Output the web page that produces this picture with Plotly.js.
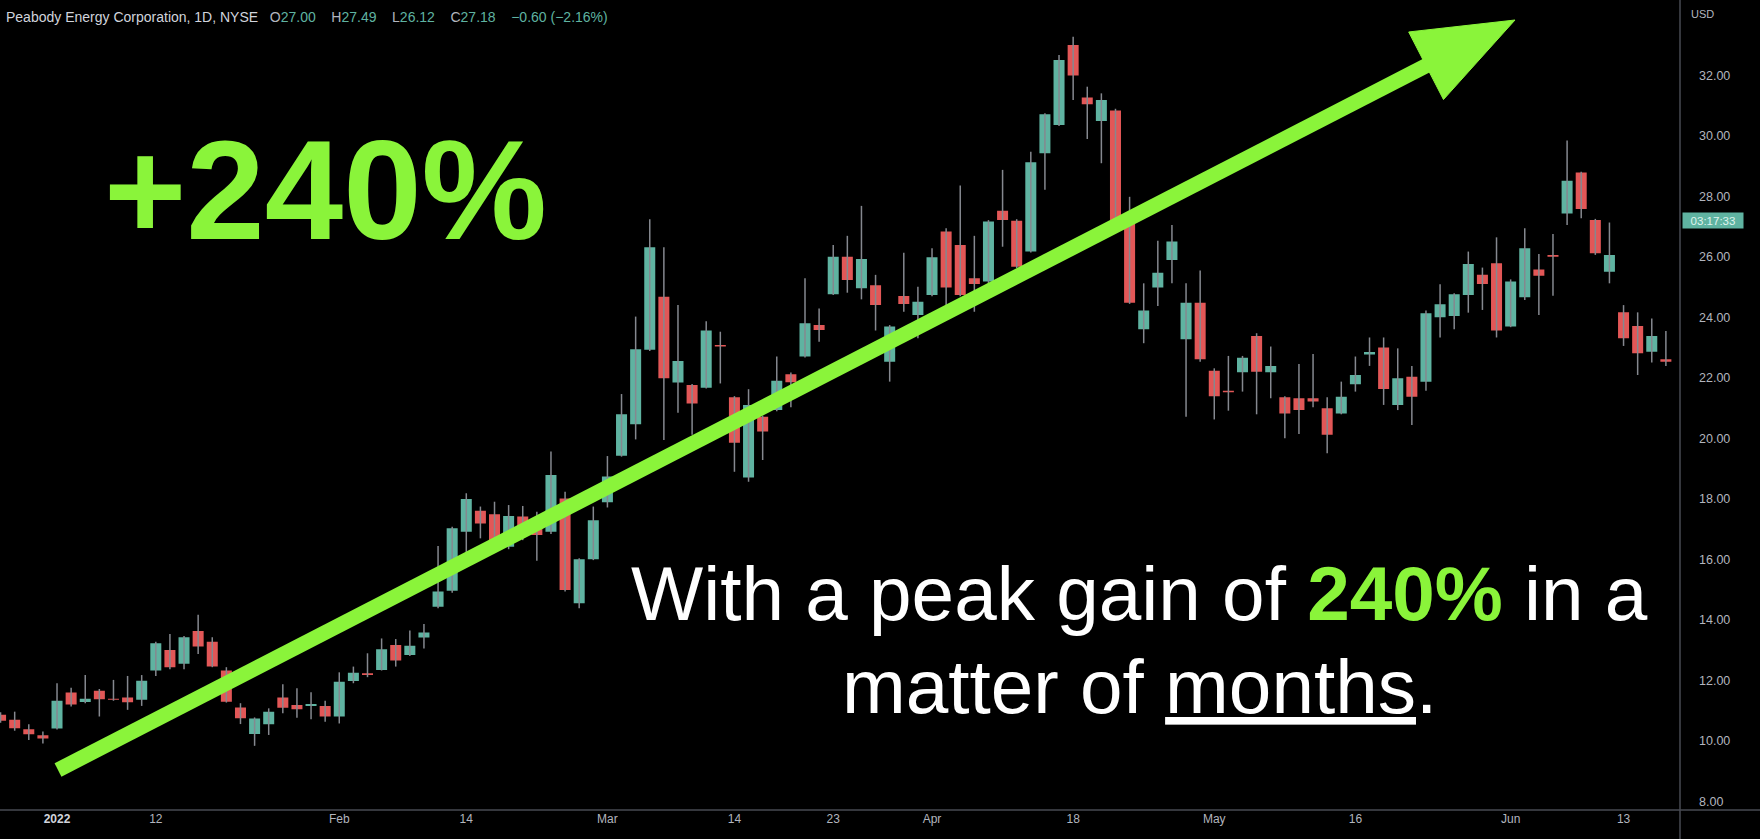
<!DOCTYPE html>
<html>
<head>
<meta charset="utf-8">
<script src="https://cdn.plot.ly/plotly-3.0.1.min.js"></script>
<style>
html,body{margin:0;padding:0;background:#000;}
#chart{width:1760px;height:839px;}
</style>
</head>
<body>
<div id="chart"></div>
<script>
// ---- data ----
const dates = [
 '2021-12-28','2021-12-29','2021-12-30','2021-12-31',
 '2022-01-03','2022-01-04','2022-01-05','2022-01-06','2022-01-07','2022-01-10','2022-01-11','2022-01-12','2022-01-13','2022-01-14',
 '2022-01-18','2022-01-19','2022-01-20','2022-01-21','2022-01-24','2022-01-25','2022-01-26','2022-01-27','2022-01-28','2022-01-31',
 '2022-02-01','2022-02-02','2022-02-03','2022-02-04','2022-02-07','2022-02-08','2022-02-09','2022-02-10','2022-02-11','2022-02-14',
 '2022-02-15','2022-02-16','2022-02-17','2022-02-18','2022-02-22','2022-02-23','2022-02-24','2022-02-25','2022-02-28',
 '2022-03-01','2022-03-02','2022-03-03','2022-03-04','2022-03-07','2022-03-08','2022-03-09','2022-03-10','2022-03-11','2022-03-14',
 '2022-03-15','2022-03-16','2022-03-17','2022-03-18','2022-03-21','2022-03-22','2022-03-23','2022-03-24','2022-03-25','2022-03-28',
 '2022-03-29','2022-03-30','2022-03-31',
 '2022-04-01','2022-04-04','2022-04-05','2022-04-06','2022-04-07','2022-04-08','2022-04-11','2022-04-12','2022-04-13','2022-04-14',
 '2022-04-18','2022-04-19','2022-04-20','2022-04-21','2022-04-22','2022-04-25','2022-04-26','2022-04-27','2022-04-28','2022-04-29',
 '2022-05-02','2022-05-03','2022-05-04','2022-05-05','2022-05-06','2022-05-09','2022-05-10','2022-05-11','2022-05-12','2022-05-13',
 '2022-05-16','2022-05-17','2022-05-18','2022-05-19','2022-05-20','2022-05-23','2022-05-24','2022-05-25','2022-05-26','2022-05-27',
 '2022-05-31',
 '2022-06-01','2022-06-02','2022-06-03','2022-06-06','2022-06-07','2022-06-08','2022-06-09','2022-06-10','2022-06-13','2022-06-14',
 '2022-06-15','2022-06-16'
];
const opens = [
 10.87,10.70,10.39,10.19,
 10.41,11.60,11.29,11.66,11.40,11.44,11.36,12.33,13.01,12.55,
 13.64,13.28,12.33,11.11,10.23,10.55,11.44,11.19,11.16,11.16,
 10.81,11.98,12.24,12.35,13.17,12.84,13.42,14.44,14.97,16.92,
 17.61,17.50,16.42,17.42,17.19,16.92,18.02,14.55,16.01,
 17.89,19.43,20.47,22.93,24.69,21.85,21.77,21.68,23.09,21.36,
 18.71,20.72,20.94,22.12,22.71,23.75,24.77,26.01,24.97,25.07,
 22.54,24.71,24.08,
 24.74,26.84,26.40,25.30,25.19,27.53,27.20,26.18,29.43,30.36,
 33.01,31.27,30.50,30.84,27.10,23.61,24.99,25.90,23.28,24.49,
 22.24,21.58,22.19,23.39,22.19,21.36,21.33,21.33,21.00,20.83,
 21.79,22.78,23.01,21.11,22.04,21.88,24.01,24.05,24.74,25.41,
 25.79,
 23.70,24.67,25.59,26.07,27.44,28.79,27.22,25.51,24.17,23.72,
 22.87,22.62
];
const highs = [
 10.95,10.97,10.55,10.31,
 11.91,11.76,12.18,11.72,12.02,12.15,12.18,13.28,13.54,13.47,
 14.17,13.43,12.44,11.25,10.78,11.08,11.88,11.74,11.61,11.33,
 12.27,12.46,12.90,13.39,13.37,13.65,13.87,16.45,17.08,18.19,
 17.75,17.91,17.80,17.77,17.58,19.57,18.24,16.04,17.75,
 19.42,21.47,24.03,27.25,26.32,24.41,21.80,23.88,23.53,21.40,
 21.63,20.75,22.71,22.18,25.30,24.30,26.40,26.70,27.69,25.41,
 23.75,26.14,25.02,
 26.29,26.95,28.36,26.70,27.22,28.88,27.25,29.48,30.75,32.68,
 33.28,31.63,31.41,30.90,27.99,25.13,26.54,27.06,25.13,25.55,
 22.32,22.73,22.73,23.48,23.04,21.40,22.46,22.79,21.36,21.88,
 22.71,23.34,23.34,22.98,22.40,24.23,25.10,24.80,26.18,25.65,
 26.65,
 25.26,26.95,26.10,26.76,29.85,28.82,27.26,27.14,24.41,24.17,
 23.97,23.55
];
const lows = [
 10.60,10.34,10.03,9.92,
 10.38,11.14,11.25,10.81,11.33,11.03,11.16,12.15,12.37,12.37,
 12.88,12.44,11.27,10.56,9.84,10.20,10.92,10.77,10.72,10.64,
 10.58,11.91,12.11,12.33,12.46,12.81,13.06,14.39,14.90,16.20,
 16.70,16.59,16.34,16.64,15.96,16.84,14.94,14.39,15.98,
 17.72,19.40,19.97,22.89,19.95,20.85,20.12,21.65,21.82,18.90,
 18.57,19.29,20.90,21.03,22.68,23.20,24.74,24.82,24.60,23.57,
 21.88,24.19,23.31,
 24.70,24.36,24.70,24.19,25.13,26.34,25.63,26.15,28.22,30.33,
 31.19,29.90,29.10,27.10,24.45,23.15,24.38,25.13,20.72,22.54,
 20.63,20.92,21.55,20.80,21.33,20.01,20.15,21.03,19.51,20.80,
 21.55,22.40,21.11,20.94,20.45,21.58,23.34,23.61,24.16,24.25,
 23.34,
 23.68,24.58,24.08,24.72,27.06,27.28,26.07,25.13,23.06,22.10,
 22.51,22.40
];
const closes = [
 10.67,10.42,10.22,10.08,
 11.33,11.21,11.40,11.38,11.36,11.28,11.99,13.23,12.44,13.43,
 13.12,12.46,11.30,10.75,10.74,10.97,11.10,11.05,11.22,10.81,
 11.96,12.26,12.18,13.03,12.66,13.15,13.59,14.94,17.03,18.00,
 17.19,16.64,17.44,16.81,16.81,18.79,14.99,16.01,17.30,
 18.74,20.80,22.95,26.32,21.99,22.56,21.16,23.57,23.04,19.86,
 21.11,20.23,21.91,21.86,23.81,23.59,26.01,25.24,25.93,24.41,
 23.70,24.45,24.52,
 25.99,24.99,24.74,25.11,27.17,27.22,25.68,29.13,30.72,32.51,
 32.00,31.05,31.19,27.20,24.49,24.23,25.48,26.51,24.49,22.62,
 21.40,21.53,22.67,22.21,22.40,20.83,20.94,21.22,20.12,21.38,
 22.10,22.86,21.64,21.99,21.38,24.14,24.44,24.77,25.77,25.11,
 23.57,
 25.19,26.29,25.38,26.01,28.52,27.59,26.12,26.07,23.31,22.82,
 23.39,22.54
];
const tickDates  = ['2022-01-03','2022-01-12','2022-02-01','2022-02-14','2022-03-01','2022-03-14','2022-03-23','2022-04-01','2022-04-18','2022-05-02','2022-05-16','2022-06-01','2022-06-13'];
const tickLabels = ['<b><span style="color:#d1d4dc">2022</span></b>','12','Feb','14','Mar','14','23','Apr','18','May','16','Jun','13'];
const priceTicks = [8,10,12,14,16,18,20,22,24,26,28,30,32];

// ---- styling ----
const UP = '#5fb3a1', DOWN = '#e25757', WICK = '#85888f', GREEN = '#8af43a', GRID = '#474a52';
const PW = 1680, PH = 810;
const px = x => x / PW;
const py = y => 1 - y / PH;

// wick segments built from the high/low arrays
const wx = [], wy = [];
for (let i = 0; i < dates.length; i++) {
  wx.push(dates[i], dates[i], null);
  wy.push(lows[i], highs[i], null);
}

const traces = [
  { type:'scatter', mode:'lines', x:wx, y:wy, line:{color:WICK, width:1.5}, hoverinfo:'skip', showlegend:false, connectgaps:false },
  { type:'candlestick', x:dates, open:opens, high:highs, low:lows, close:closes,
    increasing:{fillcolor:UP, line:{color:UP, width:0}},
    decreasing:{fillcolor:DOWN, line:{color:DOWN, width:0}},
    whiskerwidth:0, showlegend:false, hoverinfo:'skip' }
];

// arrow geometry (pixels)
const A0 = [58, 770], TIP = [1515, 20];
const ang = Math.atan2(A0[1]-TIP[1], TIP[0]-A0[0]);
const ux = Math.cos(ang), uy = Math.sin(ang);
const HL = 100, HW = 38;
const B = [TIP[0] - HL*ux, TIP[1] + HL*uy];
const V1 = [B[0] + HW*uy, B[1] + HW*ux];
const V2 = [B[0] - HW*uy, B[1] - HW*ux];
const SE = [B[0] + 12*ux, B[1] - 12*uy];

const GAP = '\u00a0\u00a0\u00a0\u00a0';
const header = 'Peabody Energy Corporation, 1D, NYSE\u00a0\u00a0\u00a0' +
  '<span style="color:#b2b5be">O</span><span style="color:#5fb3a1">27.00</span>' + GAP +
  '<span style="color:#b2b5be">H</span><span style="color:#5fb3a1">27.49</span>' + GAP +
  '<span style="color:#b2b5be">L</span><span style="color:#5fb3a1">26.12</span>' + GAP +
  '<span style="color:#b2b5be">C</span><span style="color:#5fb3a1">27.18</span>' + GAP +
  '<span style="color:#5fb3a1">\u22120.60 (\u22122.16%)</span>';

const layout = {
  width:1760, height:839,
  margin:{l:0, r:80, t:0, b:29, pad:0},
  paper_bgcolor:'#000', plot_bgcolor:'#000',
  showlegend:false, hovermode:false,
  boxgap:0.22, boxgroupgap:0,
  font:{family:'Liberation Sans, Arial, sans-serif', color:'#b2b5be'},
  xaxis:{
    type:'category', range:[-0.04, 119.0], autorange:false,
    showgrid:false, zeroline:false, showline:false, ticks:'',
    tickmode:'array', tickvals:tickDates, ticktext:tickLabels,
    tickfont:{size:12, color:'#b2b5be', family:'Liberation Sans, Arial, sans-serif'},
    ticklabelstandoff:0,
    rangeslider:{visible:false}, fixedrange:true
  },
  yaxis:{
    side:'right', range:[7.719, 34.496], autorange:false,
    showgrid:false, zeroline:false, showline:false, ticks:'',
    tickmode:'array', tickvals:priceTicks, ticktext:priceTicks.map(v => v.toFixed(2)),
    tickfont:{size:12.5, color:'#b2b5be', family:'Liberation Sans, Arial, sans-serif'},
    ticklabelstandoff:18, fixedrange:true
  },
  shapes:[
    {type:'line', xref:'paper', yref:'paper', x0:0, x1:1760/PW, y0:0, y1:0, line:{color:GRID, width:1.5}},
    {type:'line', xref:'paper', yref:'paper', x0:1, x1:1, y0:-29/PH, y1:1, line:{color:GRID, width:1.5}},
    {type:'line', xref:'paper', yref:'paper', x0:px(A0[0]), y0:py(A0[1]), x1:px(SE[0]), y1:py(SE[1]), line:{color:GREEN, width:15}},
    {type:'path', xref:'paper', yref:'paper', fillcolor:GREEN, line:{color:GREEN, width:1},
     path:`M ${px(TIP[0])},${py(TIP[1])} L ${px(V1[0])},${py(V1[1])} L ${px(V2[0])},${py(V2[1])} Z`}
  ],
  annotations:[
    {xref:'paper', yref:'paper', x:px(4), y:py(17), xanchor:'left', yanchor:'middle', showarrow:false,
     text:header, font:{size:14, color:'#d1d4dc', family:'Liberation Sans, Arial, sans-serif'}},
    {xref:'paper', yref:'paper', x:px(1689), y:py(14), xanchor:'left', yanchor:'middle', showarrow:false,
     text:'USD', font:{size:11, color:'#b2b5be'}},
    {xref:'paper', yref:'paper', x:px(1682), y:py(220), xanchor:'left', yanchor:'middle', showarrow:false,
     text:'03:17:33', width:58, height:13, borderpad:1, bgcolor:UP, font:{size:11.5, color:'#dff3ee'}},
    {xref:'paper', yref:'paper', x:px(325), y:py(190), xanchor:'center', yanchor:'middle', showarrow:false,
     text:'<b>+240%</b>', font:{size:141, color:GREEN, family:'Liberation Sans, Arial, sans-serif'}},
    {xref:'paper', yref:'paper', x:px(1139), y:py(593), xanchor:'center', yanchor:'middle', align:'center', showarrow:false,
     text:'With a peak gain of <b><span style="color:'+GREEN+'">240%</span></b> in a',
     font:{size:76.5, color:'#ffffff', family:'Liberation Sans, Arial, sans-serif'}},
    {xref:'paper', yref:'paper', x:px(1139), y:py(686), xanchor:'center', yanchor:'middle', align:'center', showarrow:false,
     text:'matter of <u>months</u>.',
     font:{size:76.5, color:'#ffffff', family:'Liberation Sans, Arial, sans-serif'}}
  ]
};

Plotly.newPlot('chart', traces, layout, {staticPlot:true, displayModeBar:false});
</script>
</body>
</html>
